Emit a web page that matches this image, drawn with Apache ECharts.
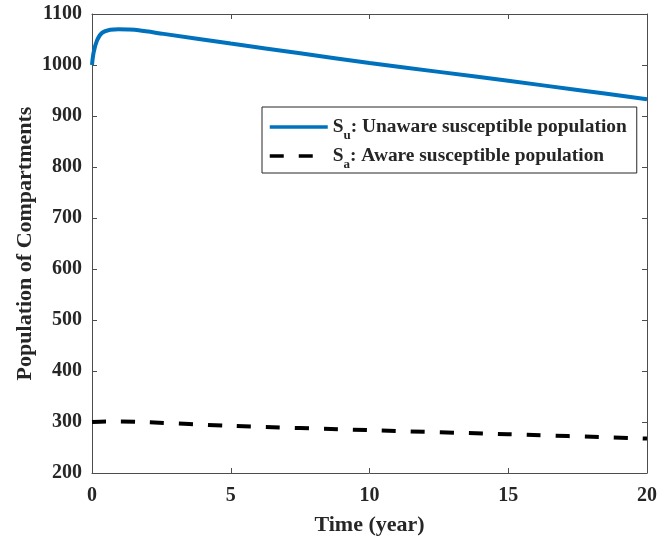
<!DOCTYPE html>
<html>
<head>
<meta charset="utf-8">
<script src="https://cdn.jsdelivr.net/npm/echarts@6/dist/echarts.min.js"></script>
<style>html,body{margin:0;padding:0;background:#fff}#c{width:660px;height:542px}</style>
</head>
<body>
<div id="c"></div>
<script>
// Data
const suTime = [0, 0.06, 0.18, 0.36, 0.66, 0.96, 1.3, 1.68, 2.58, 5, 7.5, 10, 12.5, 15, 17.5, 20];
const suValues = [1000, 1025, 1048, 1063, 1069, 1070, 1069.5, 1068, 1061, 1042, 1023, 1004, 986.5, 969, 951, 933];
const saTime = [0, 0.5, 1, 2, 5, 10, 15, 20];
const saValues = [300, 301, 301, 299.5, 292.5, 284, 276, 267.5];
const seriesNames = ['Su', 'Sa'];
const legendLabels = {
  Su: ['S', 'u', ': Unaware susceptible population'],
  Sa: ['S', 'a', ': Aware susceptible population']
};
const xTicks = [0, 5, 10, 15, 20];
const yTicks = [200, 300, 400, 500, 600, 700, 800, 900, 1000, 1100];

const font = 'Liberation Serif';
const textColor = '#262626';
const axisColor = '#4d4d4d';

const chart = echarts.init(document.getElementById('c'), null, {renderer: 'canvas'});

function pairs(t, v) { return t.map((x, i) => [x, v[i]]); }

const xCommon = {
  type: 'value', min: xTicks[0], max: xTicks[xTicks.length - 1], interval: 5,
  axisLine: {show: true, onZero: false, lineStyle: {color: axisColor, width: 1}},
  axisTick: {show: true, inside: true, length: 5, lineStyle: {color: axisColor}},
  splitLine: {show: false}
};
const yCommon = {
  type: 'value', min: yTicks[0], max: yTicks[yTicks.length - 1], interval: 100,
  axisLine: {show: true, onZero: false, lineStyle: {color: axisColor, width: 1}},
  axisTick: {show: true, inside: true, length: 5, lineStyle: {color: axisColor}},
  splitLine: {show: false}
};

chart.setOption({
  animation: false,
  backgroundColor: '#fff',
  grid: {left: 92, right: 12, top: 14, bottom: 69, containLabel: false},
  xAxis: [
    Object.assign({}, xCommon, {
      position: 'bottom',
      name: 'Time (year)', nameLocation: 'middle', nameGap: 41,
      nameTextStyle: {fontFamily: font, fontWeight: 'bold', fontSize: 22, color: textColor},
      axisLabel: {show: true, margin: 13, fontFamily: font, fontWeight: 'bold', fontSize: 20, color: textColor,
        formatter: v => String(v)}
    }),
    Object.assign({}, xCommon, {position: 'top', axisLabel: {show: false}})
  ],
  yAxis: [
    Object.assign({}, yCommon, {
      position: 'left',
      name: 'Population of Compartments', nameLocation: 'middle', nameGap: 56,
      nameMoveOverlap: false,
      nameTextStyle: {fontFamily: font, fontWeight: 'bold', fontSize: 22, color: textColor},
      axisLabel: {show: true, margin: 10, fontFamily: font, fontWeight: 'bold', fontSize: 20, color: textColor,
        formatter: v => String(v)}
    }),
    Object.assign({}, yCommon, {position: 'right', axisLabel: {show: false}})
  ],
  legend: {
    show: true,
    orient: 'vertical',
    left: 262, top: 107,
    padding: [9, 10, 2, 6],
    itemGap: 3,
    itemWidth: 58, itemHeight: 20,
    borderColor: '#262626', borderWidth: 1,
    backgroundColor: '#fff',
    itemStyle: {opacity: 0},
    lineStyle: {width: 3.5},
    data: seriesNames,
    formatter: function (name) {
      const l = legendLabels[name];
      return '{m|' + l[0] + '}{s|' + l[1] + '}{m|' + l[2] + '}';
    },
    textStyle: {
      fontFamily: font, fontWeight: 'bold', fontSize: 19.4, color: textColor,
      rich: {
        m: {fontFamily: font, fontWeight: 'bold', fontSize: 19.4, color: textColor, lineHeight: 22},
        s: {fontFamily: font, fontWeight: 'bold', fontSize: 13, color: textColor, lineHeight: 4,
            verticalAlign: 'top', padding: [13, 0, 0, 0]}
      }
    }
  },
  series: [
    {
      name: seriesNames[0], type: 'line', xAxisIndex: 0, yAxisIndex: 0,
      data: pairs(suTime, suValues), smooth: 0.35, showSymbol: false, symbol: 'none',
      lineStyle: {color: '#0072BD', width: 4}, itemStyle: {color: '#0072BD'}
    },
    {
      name: seriesNames[1], type: 'line', xAxisIndex: 0, yAxisIndex: 0,
      data: pairs(saTime, saValues), smooth: 0.3, showSymbol: false, symbol: 'none',
      lineStyle: {color: '#000', width: 4, type: [14, 15], cap: 'butt'}, itemStyle: {color: '#000'}
    }
  ]
});
</script>
</body>
</html>
